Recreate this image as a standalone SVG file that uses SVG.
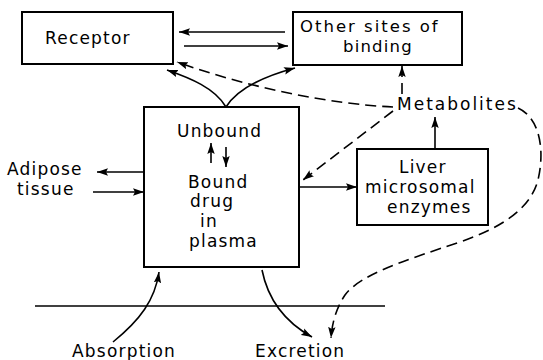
<svg xmlns="http://www.w3.org/2000/svg" width="543" height="360" viewBox="0 0 543 360">
<defs>
<marker id="ah" markerUnits="userSpaceOnUse" markerWidth="12" markerHeight="8" refX="11" refY="4" orient="auto">
<path d="M0,0.3 L11,4 L0,7.7 L2,4 z" fill="#000" stroke="none"/>
</marker>
<style>
.box{fill:#fff;stroke:#000;stroke-width:2}
text{font-family:"DejaVu Sans","Liberation Sans",sans-serif;font-size:17px;letter-spacing:1.2px;fill:#000}
.ln{fill:none;stroke:#000;stroke-width:1.6}
.ar{fill:none;stroke:#000;stroke-width:1.6;marker-end:url(#ah)}
.da{fill:none;stroke:#000;stroke-width:1.6;stroke-dasharray:11 6;marker-end:url(#ah)}
</style>
</defs>
<rect width="543" height="360" fill="#fff"/>
<g id="receptor">
<rect class="box" x="22" y="12" width="151" height="52"/>
<text x="45" y="44">Receptor</text>
</g>
<g id="other-sites">
<rect class="box" x="293" y="12" width="169" height="53"/>
<text x="300" y="32" style="letter-spacing:2px;font-size:16.5px">Other sites of</text>
<text x="343" y="52" style="font-size:16.5px">binding</text>
</g>
<g id="plasma">
<rect class="box" x="144" y="107" width="155" height="160"/>
<text x="177" y="137">Unbound</text>
<text x="188" y="188">Bound</text>
<text x="190" y="207">drug</text>
<text x="200" y="227">in</text>
<text x="189" y="247">plasma</text>
</g>
<g id="liver">
<rect class="box" x="357" y="149" width="131" height="76"/>
<text x="399" y="173">Liver</text>
<text x="365" y="193">microsomal</text>
<text x="387" y="213">enzymes</text>
</g>
<g id="metabolites">
<text x="397" y="110" style="letter-spacing:2px">Metabolites</text>
</g>
<g id="adipose">
<text x="7" y="175">Adipose</text>
<text x="17" y="195">tissue</text>
</g>
<g id="absorption">
<text x="72" y="357">Absorption</text>
</g>
<g id="excretion">
<text x="255" y="357">Excretion</text>
</g>
<g id="connectors">
<path class="ar" d="M285,32 L179,32"/>
<path class="ar" d="M184,46 L288,46"/>
<path class="ar" d="M226,107 C215,88 190,78 167,70"/>
<path class="ar" d="M226,107 C238,88 265,76 295,68"/>
<path class="da" d="M393,107 C330,104 250,88 177,62"/>
<path class="da" d="M402,94 L402,66"/>
<path class="da" d="M393,111 L303,180"/>
<path class="ar" d="M435,149 L435,117"/>
<path class="ar" d="M299,187 L357,187"/>
<path class="da" d="M518,108 C540,118 545,150 538,180 C530,210 500,228 460,242 C400,262 360,275 345,295 C335,310 332,325 331,338"/>
<path class="ar" d="M262,270 C268,300 285,322 312,337"/>
<path class="ar" d="M113,342 C140,320 155,300 159,272"/>
<path class="ar" d="M144,172 L97,172"/>
<path class="ar" d="M93,192 L144,192"/>
<path class="ar" d="M211,163 L211,143"/>
<path class="ar" d="M226,147 L226,167"/>
<path class="ln" d="M35,306 L385,306"/>
</g>
</svg>
